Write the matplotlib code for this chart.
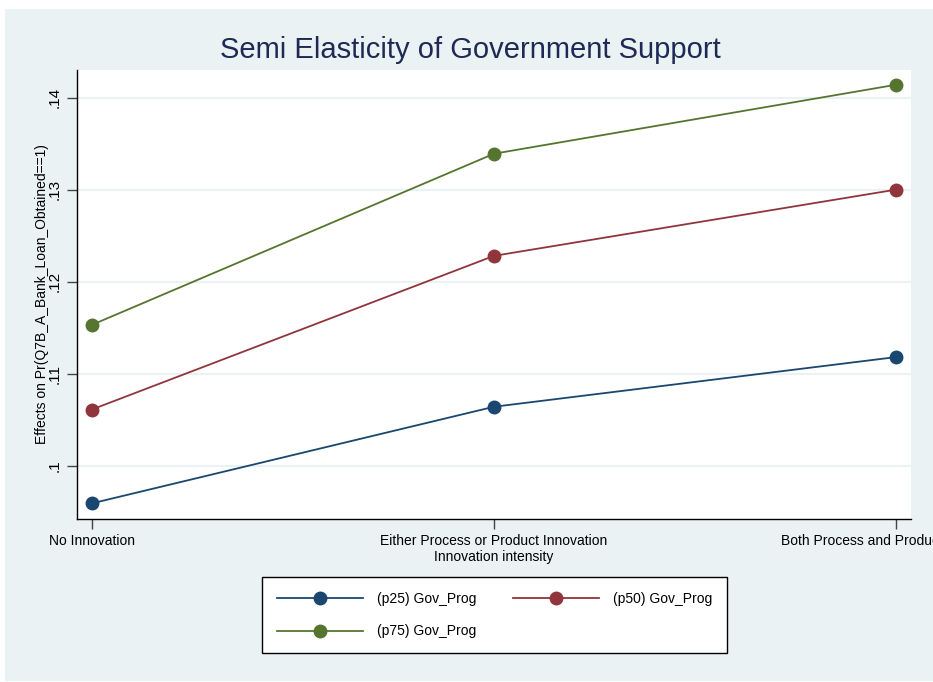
import matplotlib as mpl
mpl.use('Agg')

import matplotlib.pyplot as plt
from matplotlib.patches import Rectangle

categories = ['No Innovation', 'Either Process or Product Innovation',
              'Both Process and Product Innovation']
p25 = [0.0959, 0.1064, 0.1118]
p50 = [0.1061, 0.1228, 0.1300]
p75 = [0.1153, 0.1339, 0.1414]
series_names = ['(p25) Gov_Prog', '(p50) Gov_Prog', '(p75) Gov_Prog']
yticks = [0.10, 0.11, 0.12, 0.13, 0.14]
ytick_labels = ['.1', '.11', '.12', '.13', '.14']

colors = ['#1a476f', '#90353b', '#55752f']
bg = '#eaf2f3'
narrow = ['Liberation Sans Narrow', 'Liberation Sans', 'DejaVu Sans']
plain = ['Liberation Sans', 'DejaVu Sans']

fig = plt.figure(figsize=(9.33, 6.82), dpi=100)
fig.patch.set_facecolor('white')
fig.patches.append(Rectangle((5 / 933, 1 - 681 / 682), 1 - 5 / 933, (681 - 9) / 682,
                             transform=fig.transFigure, facecolor=bg,
                             edgecolor='none', zorder=-10))

ax = fig.add_axes([77 / 933, 1 - 519 / 682, (911 - 77) / 933, (519 - 70) / 682])
ax.set_facecolor('white')

x = list(range(len(categories)))
lines = []
for vals, c, name in zip([p25, p50, p75], colors, series_names):
    ln, = ax.plot(x, vals, color=c, lw=1.3, marker='o', markersize=9,
                  markeredgecolor=c, label=name, clip_on=False, zorder=3)
    lines.append(ln)

ax.set_xlim(-0.037, 2.037)
ax.set_ylim(0.0942, 0.1430)
ax.set_xticks(x)
ax.set_xticklabels(categories, fontfamily=narrow, fontsize=10)
ax.set_yticks(yticks)
ax.set_yticklabels(ytick_labels, rotation=90, va='center', fontfamily=plain, fontsize=11)
ax.grid(axis='y', color=bg, lw=1.5, zorder=0)
ax.set_axisbelow(True)

for s in ['top', 'right']:
    ax.spines[s].set_visible(False)
for s in ['left', 'bottom']:
    ax.spines[s].set_color('black')
    ax.spines[s].set_linewidth(1.0)
ax.tick_params(axis='both', length=7, width=1, color='#444444', pad=4)

ax.set_xlabel('Innovation intensity', fontfamily=narrow, fontsize=10, labelpad=1)
ax.set_ylabel('Effects on Pr(Q7B_A_Bank_Loan_Obtained==1)', fontfamily=plain,
              fontsize=10, labelpad=-1)

fig.text(470 / 933, 1 - 50 / 682, 'Semi Elasticity of Government Support',
         ha='center', va='center', fontfamily=narrow, fontsize=21, color='#1e2a55')

# legend rows: p25, p50 / p75
leg = fig.legend([lines[0], lines[2], lines[1]],
                 [series_names[0], series_names[2], series_names[1]],
                 ncol=2, loc='lower left',
                 bbox_to_anchor=(262 / 933, 1 - 653 / 682, (727 - 262) / 933, 76 / 682),
                 mode='expand', fancybox=False, frameon=True, edgecolor='black',
                 facecolor='white', framealpha=1, prop={'family': plain, 'size': 10},
                 handlelength=6.2, handletextpad=1.0, columnspacing=2.8,
                 labelspacing=1.35, borderpad=1.05, borderaxespad=0)
leg.get_frame().set_linewidth(1.0)

plt.savefig('out.png', dpi=100)
